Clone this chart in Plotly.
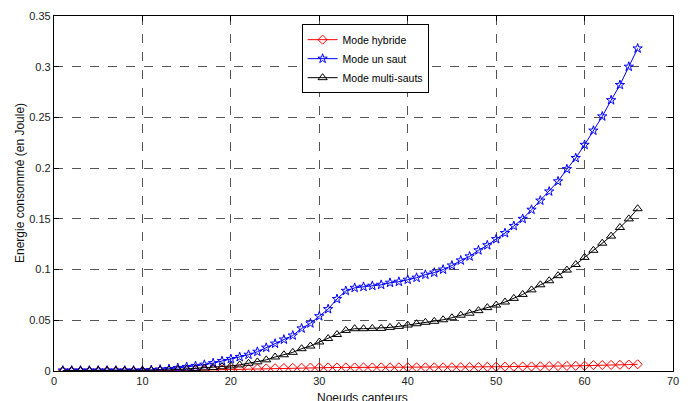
import plotly.graph_objects as go

x = list(range(1, 67))

hybride = [0.0, 0.0, 0.0, 0.0, 0.0, 0.0, 0.0, 0.0, 0.0, 0.0,
           0.0001, 0.0002, 0.0003, 0.0005, 0.0006, 0.0008, 0.0010, 0.0012, 0.0014, 0.0017,
           0.0019, 0.0021, 0.0023, 0.0025, 0.0027, 0.0029, 0.0031, 0.0032, 0.0034, 0.0035,
           0.0035, 0.0035, 0.0035, 0.0035, 0.0035, 0.0035, 0.0036, 0.0036, 0.0036, 0.0036,
           0.0036, 0.0036, 0.0036, 0.0036, 0.0037, 0.0038, 0.0039, 0.0040, 0.0041, 0.0042,
           0.0043, 0.0043, 0.0044, 0.0045, 0.0046, 0.0048, 0.0049, 0.0050, 0.0051, 0.0052,
           0.0058, 0.0059, 0.0060, 0.0061, 0.0063, 0.0066]

un_saut = [0.0005, 0.0005, 0.0005, 0.0005, 0.0005, 0.0005, 0.0005, 0.0005, 0.0005, 0.0006,
           0.0010, 0.0015, 0.0020, 0.0030, 0.0040, 0.0050, 0.0062, 0.0078, 0.0098, 0.0118,
           0.0138, 0.016, 0.019, 0.023, 0.027, 0.031, 0.035, 0.042, 0.047, 0.054,
           0.061, 0.071, 0.079, 0.082, 0.083, 0.084, 0.085, 0.087, 0.088, 0.090,
           0.092, 0.095, 0.097, 0.100, 0.104, 0.109, 0.113, 0.119, 0.124, 0.130,
           0.136, 0.143, 0.150, 0.159, 0.168, 0.177, 0.187, 0.199, 0.210, 0.223,
           0.237, 0.251, 0.267, 0.282, 0.300, 0.318]

multi_sauts = [0.0003, 0.0003, 0.0003, 0.0003, 0.0003, 0.0003, 0.0003, 0.0003, 0.0003, 0.0004,
               0.0006, 0.0008, 0.0010, 0.0015, 0.0020, 0.0025, 0.0030, 0.0035, 0.0042, 0.0050,
               0.0060, 0.0076, 0.0090, 0.0110, 0.0138, 0.0160, 0.0184, 0.0220, 0.0246, 0.0286,
               0.0320, 0.0360, 0.0400, 0.0417, 0.0417, 0.0420, 0.0420, 0.0430, 0.0440, 0.0453,
               0.0466, 0.0480, 0.0490, 0.0505, 0.0525, 0.0550, 0.0570, 0.0595, 0.0625, 0.0650,
               0.0680, 0.0716, 0.0755, 0.0800, 0.0850, 0.0890, 0.0940, 0.0995, 0.1050, 0.1120,
               0.1190, 0.1260, 0.1330, 0.1415, 0.1500, 0.1600]

x_ticks = [0, 10, 20, 30, 40, 50, 60, 70]
y_ticks = [0, 0.05, 0.1, 0.15, 0.2, 0.25, 0.3, 0.35]
y_tick_labels = ["0", "0.05", "0.1", "0.15", "0.2", "0.25", "0.3", "0.35"]

FONT = "Liberation Sans, Arial"

fig = go.Figure()
fig.add_trace(go.Scatter(x=x, y=hybride, mode="lines+markers", name="Mode hybride",
                         line=dict(color="#ff0000", width=1),
                         marker=dict(symbol="diamond-open", size=7, color="#ff0000", line=dict(width=1))))
fig.add_trace(go.Scatter(x=x, y=un_saut, mode="lines+markers", name="Mode un saut",
                         line=dict(color="#0000ff", width=1),
                         marker=dict(symbol="star-open", size=7, color="#0000ff", line=dict(width=1))))
fig.add_trace(go.Scatter(x=x, y=multi_sauts, mode="lines+markers", name="Mode multi-sauts",
                         line=dict(color="#000000", width=1),
                         marker=dict(symbol="triangle-up-open", size=8, color="#000000", line=dict(width=1))))

axis_common = dict(showline=True, linecolor="black", linewidth=1.3, mirror="ticks",
                   ticks="inside", ticklen=5, tickcolor="black",
                   showgrid=True, gridcolor="#555555", griddash="dash", gridwidth=1,
                   zeroline=False, tickfont=dict(family=FONT, size=11, color="#222"))

fig.update_xaxes(range=[0, 70], tickvals=x_ticks, **axis_common)
fig.update_yaxes(range=[0, 0.35], tickvals=y_ticks, ticktext=y_tick_labels, **axis_common)

fig.add_annotation(text="Noeuds capteurs", xref="paper", yref="paper", x=0.499, y=-0.076,
                   xanchor="center", yanchor="middle", showarrow=False,
                   font=dict(family=FONT, size=12, color="#111"))
fig.add_annotation(text="Energie consommé (en Joule)", xref="paper", yref="paper", x=-0.0549, y=0.5296,
                   xanchor="center", yanchor="middle", showarrow=False, textangle=-90,
                   font=dict(family=FONT, size=12, color="#111"))

fig.update_layout(
    width=693, height=401,
    margin=dict(l=46, r=28, t=8, b=38, autoexpand=False),
    paper_bgcolor="white", plot_bgcolor="white",
    showlegend=True,
    legend=dict(x=0.40, y=0.977, xanchor="left", yanchor="top",
                bgcolor="white", bordercolor="black", borderwidth=1,
                font=dict(family=FONT, size=10.5, color="black"),
                itemwidth=30, tracegroupgap=0),
)

fig.write_html("out.html")
